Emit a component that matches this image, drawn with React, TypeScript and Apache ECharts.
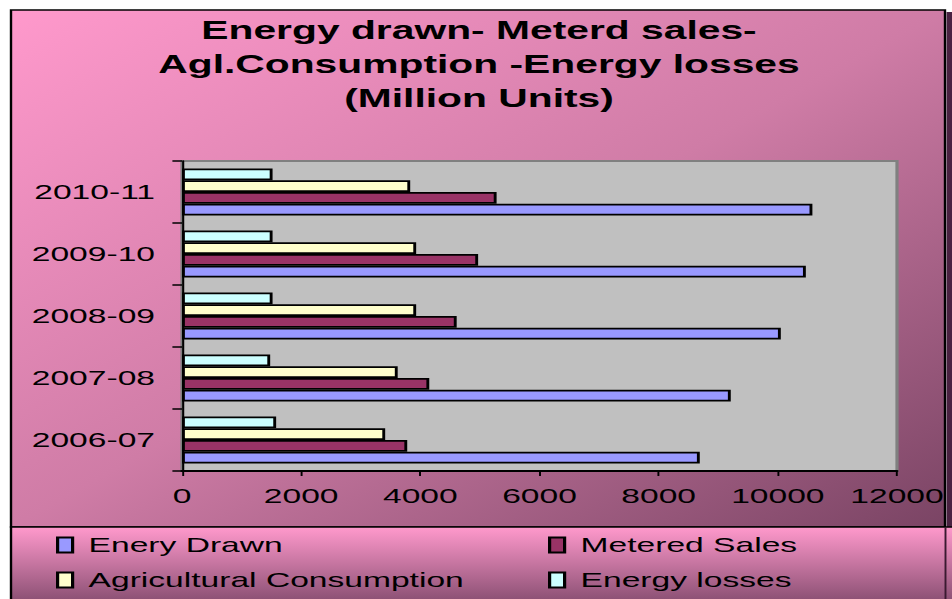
import React, { useEffect, useRef } from "react";
import * as echarts from "echarts";

const categories = ["2006-07", "2007-08", "2008-09", "2009-10", "2010-11"];
const energyDrawn = [8690, 9210, 10050, 10470, 10580];
const meteredSales = [3780, 4150, 4610, 4970, 5280];
const agriConsumption = [3410, 3620, 3930, 3930, 3830];
const energyLosses = [1580, 1480, 1520, 1520, 1520];
const xTicks = { min: 0, max: 12000, interval: 2000 };
const seriesNames = ["Enery Drawn", "Metered Sales", "Agricultural Consumption", "Energy losses"];
const seriesColors = ["#9999FF", "#993366", "#FFFFCC", "#CCFFFF"];
const titleText = "Energy drawn- Meterd sales-\nAgl.Consumption -Energy losses\n(Million Units)";

const S = 1.6; // horizontal stretch of the reference
const W = 952 / S;
const H = 599;
const FONT = "Liberation Sans";

export default function App() {
  const ref = useRef<HTMLDivElement>(null);
  useEffect(() => {
    if (!ref.current) return;
    const chart = echarts.init(ref.current, undefined, { renderer: "svg" });
    const values = [energyDrawn, meteredSales, agriConsumption, energyLosses];
    const x = (px: number) => px / S;
    // legend slots: [seriesIndex, left px, row center px]
    const legendSlots: [number, number, number][] = [
      [0, 56, 545],
      [1, 548, 545],
      [2, 56, 580],
      [3, 548, 580],
    ];
    const option: any = {
      animation: false,
      title: {
        text: titleText,
        left: x(479),
        textAlign: "center",
        top: 13,
        padding: 0,
        textStyle: { fontFamily: FONT, fontSize: 25.5, fontWeight: "bold", lineHeight: 34, color: "#000" },
      },
      graphic: [
        {
          type: "rect",
          z: -100,
          shape: { x: x(11), y: 10, width: x(945) - x(11), height: 517 },
          style: {
            fill: new echarts.graphic.LinearGradient(0, 0, 1, 1, [
              { offset: 0, color: "#FF99CC" },
              { offset: 0.5, color: "#CF7CA6" },
              { offset: 1, color: "#7A4464" },
            ]),
            stroke: "#000",
            lineWidth: 1.5,
          },
        },
        {
          type: "rect",
          z: -100,
          shape: { x: x(946.5), y: 12, width: W - x(946.5), height: 515 },
          style: { fill: "#4A2242" },
        },
        {
          type: "rect",
          z: -100,
          shape: { x: x(11), y: 527, width: W + 20, height: 90 },
          style: {
            fill: new echarts.graphic.LinearGradient(0, 0, 0, 1, [
              { offset: 0, color: "#FF99CC" },
              { offset: 0.8, color: "#8E5276" },
              { offset: 1, color: "#804868" },
            ]),
            stroke: "#000",
            lineWidth: 1.5,
          },
        },
        {
          type: "line",
          z: -90,
          shape: { x1: x(945.5), y1: 527, x2: x(945.5), y2: 599 },
          style: { stroke: "#3A1A30", lineWidth: 1.2 },
        },
      ],
      legend: legendSlots.map(([si, left, cy]) => ({
        left: x(left),
        top: cy - 10.5,
        padding: 0,
        itemWidth: x(15),
        itemHeight: 15,
        icon: "rect",
        data: [seriesNames[si]],
        textStyle: { fontFamily: FONT, fontSize: 21, lineHeight: 21, color: "#000", padding: [0, 0, 0, 5] },
        itemStyle: { borderColor: "#000", borderWidth: 2 },
      })),
      grid: {
        left: x(182),
        right: W - x(897),
        top: 161,
        bottom: H - 471,
        show: true,
        backgroundColor: "#C0C0C0",
        borderColor: "#808080",
        borderWidth: 2,
      },
      xAxis: {
        type: "value",
        min: xTicks.min,
        max: xTicks.max,
        interval: xTicks.interval,
        splitLine: { show: false },
        axisLine: { show: true, lineStyle: { color: "#000", width: 2 } },
        axisTick: { show: true, length: 5, lineStyle: { color: "#000", width: 1.2 } },
        axisLabel: {
          fontFamily: FONT,
          fontSize: 21,
          color: "#000",
          margin: 14,
          formatter: (v: number) => String(v),
        },
      },
      yAxis: {
        type: "category",
        data: categories,
        axisLine: { show: true, lineStyle: { color: "#000", width: 1.3 } },
        axisTick: { show: true, length: 6, lineStyle: { color: "#000", width: 1.5 } },
        axisLabel: { fontFamily: FONT, fontSize: 21, color: "#000", margin: x(27), padding: [0, 0, 6, 0] },
        splitLine: { show: false },
      },
      // reversed so that the first series sits at the bottom of each group
      series: seriesNames
        .map((name, i) => ({
          name,
          type: "bar",
          data: values[i],
          barGap: "0%",
          barCategoryGap: "24%",
          itemStyle: { color: seriesColors[i], borderColor: "#000", borderWidth: 1.8 },
        }))
        .reverse(),
    };
    chart.setOption(option);
    return () => chart.dispose();
  }, []);
  return (
    <div style={{ position: "fixed", left: 0, top: 0, width: 952, height: 599, overflow: "hidden", background: "#fff" }}>
      <div
        ref={ref}
        style={{ width: W, height: H, transform: `scaleX(${S})`, transformOrigin: "0 0" }}
      />
    </div>
  );
}
